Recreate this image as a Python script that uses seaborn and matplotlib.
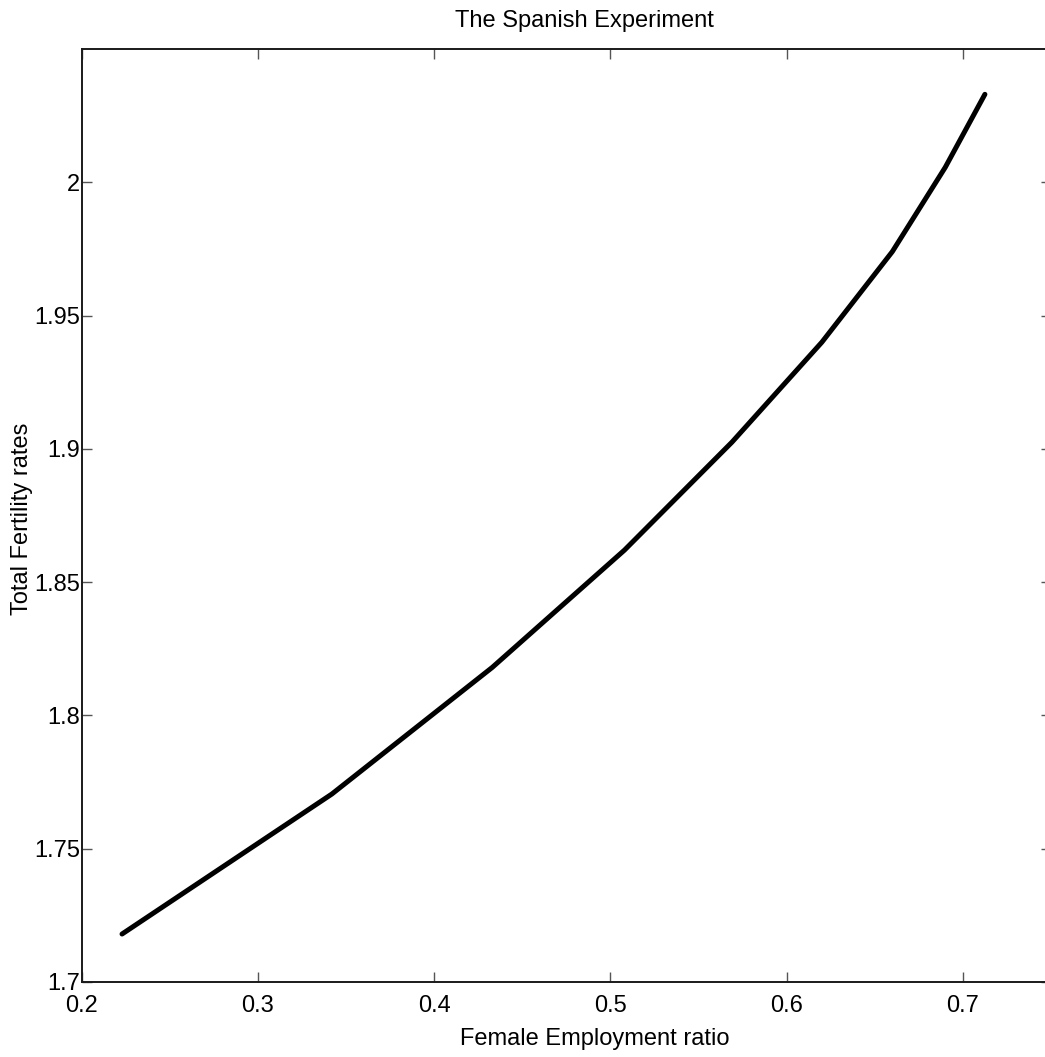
import matplotlib
matplotlib.use("Agg")
import matplotlib.pyplot as plt
import seaborn as sns
import pandas as pd

# Female employment ratio vs. total fertility rate
employment = [0.223, 0.342, 0.433, 0.508, 0.569, 0.620, 0.660, 0.690, 0.7125]
fertility = [1.718, 1.7705, 1.818, 1.862, 1.9025, 1.940, 1.974, 2.0056, 2.033]

x_ticks = [0.2, 0.3, 0.4, 0.5, 0.6, 0.7]
x_tick_labels = ["0.2", "0.3", "0.4", "0.5", "0.6", "0.7"]
y_ticks = [1.7, 1.75, 1.8, 1.85, 1.9, 1.95, 2.0]
y_tick_labels = ["1.7", "1.75", "1.8", "1.85", "1.9", "1.95", "2"]

title = "The Spanish Experiment"
x_label = "Female Employment ratio"
y_label = "Total Fertility rates"

sns.set_theme(style="white")
plt.rcParams["font.family"] = ["Liberation Sans", "DejaVu Sans"]

W, H = 1045, 1057
fig = plt.figure(figsize=(W / 100, H / 100), dpi=100)
fig.patch.set_facecolor("white")

left_px, right_px, top_px, bottom_px = 81.5, 1051, 49, 982
ax = fig.add_axes([left_px / W, (H - bottom_px) / H,
                   (right_px - left_px) / W, (bottom_px - top_px) / H])
ax.set_facecolor("white")

df = pd.DataFrame({"employment": employment, "fertility": fertility})
sns.lineplot(data=df, x="employment", y="fertility", sort=False,
             estimator=None, color="black", linewidth=3.6, ax=ax,
             solid_capstyle="round", solid_joinstyle="round")

ax.set_xlim(0.2, 0.75)
ax.set_ylim(1.7, 2.05)
ax.set_xticks(x_ticks)
ax.set_xticklabels(x_tick_labels)
ax.set_yticks(y_ticks)
ax.set_yticklabels(y_tick_labels)

fs = 17
ax.tick_params(axis="both", which="major", direction="in", length=7.5,
               width=1.0, color="#555555", labelsize=fs, labelcolor="black",
               top=True, right=True, bottom=True, left=True)
ax.tick_params(axis="x", pad=9)
ax.tick_params(axis="y", pad=1)

for sp in ax.spines.values():
    sp.set_visible(True)
    sp.set_color("#1a1a1a")
    sp.set_linewidth(1.4)

ax_w = right_px - left_px
ax_h = bottom_px - top_px

ax.set_title(title, fontsize=fs, color="black", pad=0,
             x=(584 - left_px) / ax_w, y=(bottom_px - 27) / ax_h, va="baseline")

ax.set_xlabel(x_label, fontsize=fs, color="black")
ax.xaxis.label.set_va("baseline")
ax.xaxis.set_label_coords((595 - left_px) / ax_w, (bottom_px - 1045) / ax_h)

ax.set_ylabel(y_label, fontsize=fs, color="black")
ax.yaxis.set_label_coords((33 - left_px) / ax_w, (bottom_px - 519) / ax_h)

fig.savefig("out.png", dpi=100, facecolor="white")
